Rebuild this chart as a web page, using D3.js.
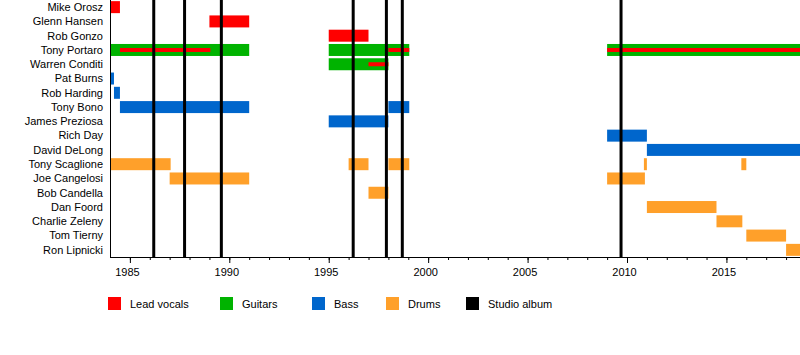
<!DOCTYPE html>
<html lang="en">
<head>
<meta charset="utf-8">
<title>Band timeline</title>
<script src="https://d3js.org/d3.v7.min.js"></script>
<style>
  body { margin: 0; background: #fff; }
  text { font-family: "Liberation Sans", Arial, sans-serif; font-size: 11px; fill: #000; }
</style>
</head>
<body>
<script>
var width = 800, height = 355;

// members, top to bottom
var members = ["Mike Orosz", "Glenn Hansen", "Rob Gonzo", "Tony Portaro", "Warren Conditi",
  "Pat Burns", "Rob Harding", "Tony Bono", "James Preziosa", "Rich Day", "David DeLong",
  "Tony Scaglione", "Joe Cangelosi", "Bob Candella", "Dan Foord", "Charlie Zeleny",
  "Tom Tierny", "Ron Lipnicki"];

var roles = ["Lead vocals", "Guitars", "Bass", "Drums", "Studio album"];
var roleColors = ["#ff0000", "#00b300", "#0066cc", "#ffa02a", "#000000"];

var END = 2018.7;

// [member, role, from, to]
var bars = [
  ["Mike Orosz", "Lead vocals", 1984, 1984.5],
  ["Glenn Hansen", "Lead vocals", 1989, 1991],
  ["Rob Gonzo", "Lead vocals", 1995, 1997],
  ["Tony Portaro", "Guitars", 1984, 1991],
  ["Tony Portaro", "Guitars", 1995, 1999.05],
  ["Tony Portaro", "Guitars", 2009, END],
  ["Warren Conditi", "Guitars", 1995, 1998],
  ["Pat Burns", "Bass", 1984, 1984.2],
  ["Rob Harding", "Bass", 1984.2, 1984.5],
  ["Tony Bono", "Bass", 1984.5, 1991],
  ["Tony Bono", "Bass", 1998, 1999.05],
  ["James Preziosa", "Bass", 1995, 1998],
  ["Rich Day", "Bass", 2009, 2011],
  ["David DeLong", "Bass", 2011, END],
  ["Tony Scaglione", "Drums", 1984, 1987.05],
  ["Tony Scaglione", "Drums", 1996, 1997],
  ["Tony Scaglione", "Drums", 1998, 1999.05],
  ["Tony Scaglione", "Drums", 2010.85, 2011],
  ["Tony Scaglione", "Drums", 2015.75, 2016],
  ["Joe Cangelosi", "Drums", 1987, 1991],
  ["Joe Cangelosi", "Drums", 2009, 2010.9],
  ["Bob Candella", "Drums", 1997, 1998],
  ["Dan Foord", "Drums", 2011, 2014.5],
  ["Charlie Zeleny", "Drums", 2014.5, 2015.8],
  ["Tom Tierny", "Drums", 2016, 2018],
  ["Ron Lipnicki", "Drums", 2018, END]
];

// secondary role, drawn as a thin line inside the bar
var stripes = [
  ["Tony Portaro", "Lead vocals", 1984.5, 1989.05],
  ["Tony Portaro", "Lead vocals", 1998, 1999.05],
  ["Tony Portaro", "Lead vocals", 2009, END],
  ["Warren Conditi", "Lead vocals", 1997, 1998]
];

var albums = [1986.2, 1987.75, 1989.6, 1996.23, 1997.9, 1998.7, 2009.7];

var majorTicks = [1985, 1990, 1995, 2000, 2005, 2010, 2015];

var plotLeft = 110, plotRight = 800, plotTop = 0, plotBottom = 257;

var x = d3.scaleLinear().domain([1984, END]).range([plotLeft, plotRight]);
var y = d3.scaleBand().domain(members).range([plotTop, plotBottom]).paddingInner(0.16).paddingOuter(0.08);
var color = d3.scaleOrdinal().domain(roles).range(roleColors);

var svg = d3.select("body").append("svg")
  .attr("width", width)
  .attr("height", height);

// bars
svg.append("g").selectAll("rect")
  .data(bars)
  .enter().append("rect")
  .attr("x", function(d) { return x(d[2]); })
  .attr("y", function(d) { return y(d[0]); })
  .attr("width", function(d) { return x(d[3]) - x(d[2]); })
  .attr("height", y.bandwidth())
  .attr("fill", function(d) { return color(d[1]); });

svg.append("g").selectAll("rect")
  .data(stripes)
  .enter().append("rect")
  .attr("x", function(d) { return x(d[2]); })
  .attr("y", function(d) { return y(d[0]) + y.bandwidth() / 2 - 2; })
  .attr("width", function(d) { return x(d[3]) - x(d[2]); })
  .attr("height", 4)
  .attr("fill", function(d) { return color(d[1]); });

// studio albums
svg.append("g").selectAll("line")
  .data(albums)
  .enter().append("line")
  .attr("x1", function(d) { return x(d); })
  .attr("x2", function(d) { return x(d); })
  .attr("y1", plotTop)
  .attr("y2", plotBottom)
  .attr("stroke", "#000")
  .attr("stroke-width", 3);

// member labels
svg.append("g").selectAll("text")
  .data(members)
  .enter().append("text")
  .attr("x", plotLeft - 7)
  .attr("y", function(d) { return y(d) + y.bandwidth() / 2; })
  .attr("dy", "0.35em")
  .attr("text-anchor", "end")
  .text(function(d) { return d; });

// left axis line
svg.append("line")
  .attr("x1", plotLeft + 0.5).attr("x2", plotLeft + 0.5)
  .attr("y1", plotTop).attr("y2", plotBottom)
  .attr("stroke", "#000");

// bottom axis
var yearTicks = d3.range(1985, 2019);
var axis = d3.axisBottom(x)
  .tickValues(yearTicks)
  .tickSize(3)
  .tickFormat("");
svg.append("g")
  .attr("transform", "translate(0," + plotBottom + ")")
  .call(axis)
  .call(function(g) { g.select(".domain").attr("d", "M" + plotLeft + ",0.5H" + plotRight); });

var major = d3.axisBottom(x)
  .tickValues(majorTicks)
  .tickSize(6)
  .tickFormat(d3.format("d"));
svg.append("g")
  .attr("transform", "translate(0," + plotBottom + ")")
  .call(major)
  .call(function(g) {
    g.select(".domain").remove();
    g.selectAll("text").attr("dx", "-3px").attr("dy", "0.9em")
      .style("font-family", "'Liberation Sans', Arial, sans-serif").style("font-size", "11px");
  });

// legend
var legendX = [108, 220, 312, 386, 466];
var legend = svg.append("g").selectAll("g")
  .data(roles)
  .enter().append("g")
  .attr("transform", function(d, i) { return "translate(" + legendX[i] + ",297)"; });
legend.append("rect")
  .attr("width", 13).attr("height", 13)
  .attr("fill", function(d) { return color(d); });
legend.append("text")
  .attr("x", 22).attr("y", 7)
  .attr("dy", "0.35em")
  .text(function(d) { return d; });
</script>
</body>
</html>
